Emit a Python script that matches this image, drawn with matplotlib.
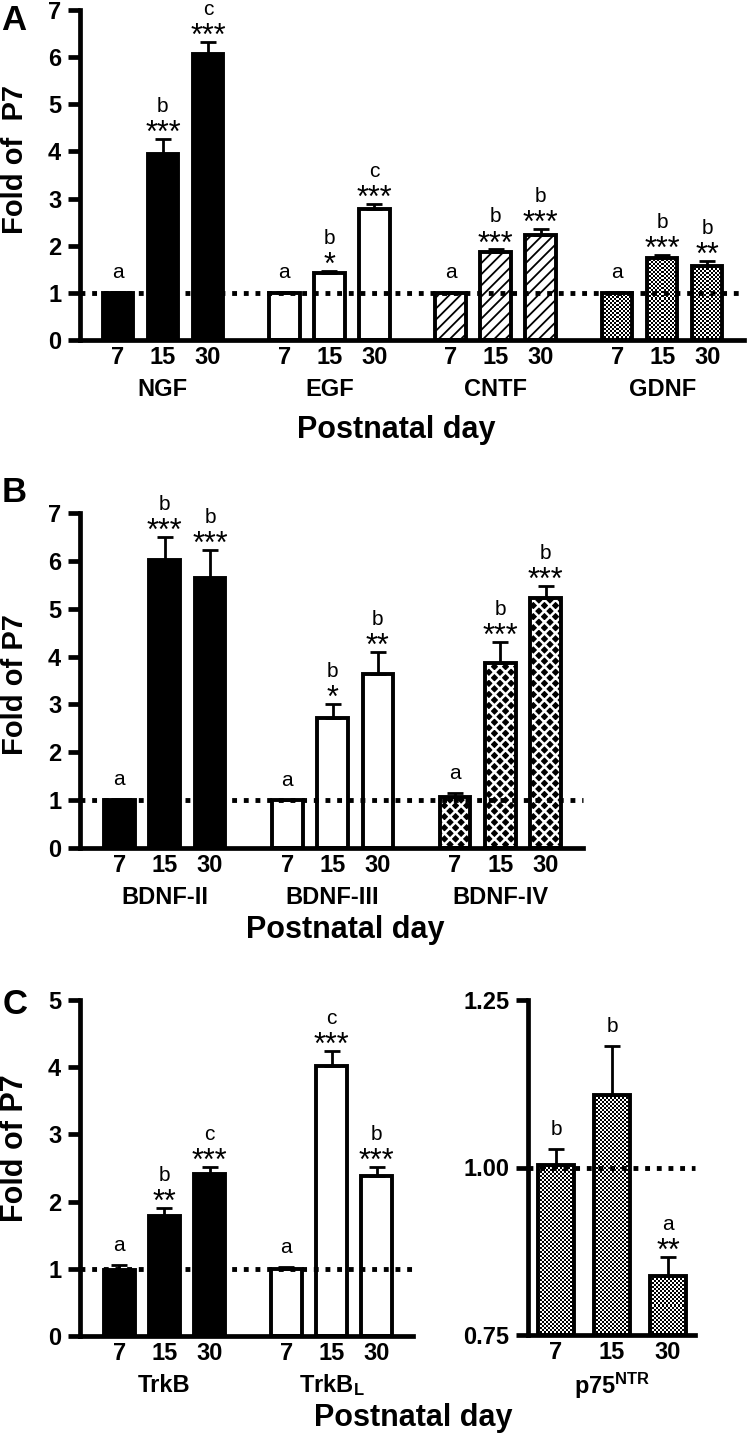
import numpy as np
import matplotlib
matplotlib.use('Agg')
import matplotlib.pyplot as plt

plt.rcParams['font.family'] = ['Liberation Sans', 'DejaVu Sans']
plt.rcParams['mathtext.fontset'] = 'custom'
plt.rcParams['mathtext.rm'] = 'Liberation Sans'
plt.rcParams['mathtext.bf'] = 'Liberation Sans:bold'
plt.rcParams['hatch.linewidth'] = 1.5

# ---------------- data ----------------
days = ['7', '15', '30']

# Panel A
a_groups = ['NGF', 'EGF', 'CNTF', 'GDNF']
ngf_mean = [1.00, 3.94, 6.07]
ngf_err = [0.02, 0.32, 0.25]
egf_mean = [1.00, 1.42, 2.77]
egf_err = [0.01, 0.05, 0.12]
cntf_mean = [1.00, 1.86, 2.22]
cntf_err = [0.01, 0.06, 0.14]
gdnf_mean = [1.00, 1.74, 1.56]
gdnf_err = [0.01, 0.07, 0.11]
a_stars = [['', '***', '***'], ['', '*', '***'], ['', '***', '***'], ['', '***', '**']]
a_letters = [['a', 'b', 'c'], ['a', 'b', 'c'], ['a', 'b', 'b'], ['a', 'b', 'b']]
a_styles = ['solid', 'open', 'hatch', 'checker']

# Panel B
b_groups = ['BDNF-II', 'BDNF-III', 'BDNF-IV']
bdnf2_mean = [1.00, 6.02, 5.64]
bdnf2_err = [0.02, 0.48, 0.59]
bdnf3_mean = [1.00, 2.72, 3.64]
bdnf3_err = [0.01, 0.29, 0.46]
bdnf4_mean = [1.07, 3.87, 5.22]
bdnf4_err = [0.08, 0.44, 0.25]
b_stars = [['', '***', '***'], ['', '*', '**'], ['', '***', '***']]
b_letters = [['a', 'b', 'b'], ['a', 'b', 'b'], ['a', 'b', 'b']]
b_styles = ['solid', 'open', 'diamond']

# Panel C
c_groups = ['TrkB', r'$\mathbf{TrkB_{L}}$']
trkb_mean = [0.98, 1.79, 2.41]
trkb_err = [0.08, 0.11, 0.11]
trkbl_mean = [1.00, 4.02, 2.38]
trkbl_err = [0.03, 0.22, 0.14]
c_stars = [['', '**', '***'], ['', '***', '***']]
c_letters = [['a', 'b', 'c'], ['a', 'c', 'b']]
c_styles = ['solid', 'open']

# Panel C right (p75NTR)
p75_label = r'$\mathbf{p75^{NTR}}$'
p75_mean = [1.003, 1.108, 0.838]
p75_err = [0.025, 0.073, 0.028]
p75_stars = ['', '', '**']
p75_letters = ['b', 'b', 'a']

# ---------------- figure ----------------
W, H = 747, 1440
fig = plt.figure(figsize=(W / 100, H / 100), dpi=100)
PT = 0.72  # points per pixel
TICK_FS = 17
GROUP_FS = 17


def add_ax(l, t, r, b):
    return fig.add_axes([l / W, 1 - b / H, (r - l) / W, (b - t) / H])


def style_axes(ax, yticks, ylabels):
    for s in ['top', 'right']:
        ax.spines[s].set_visible(False)
    for s in ['left', 'bottom']:
        ax.spines[s].set_linewidth(3.4)
    ax.set_yticks(yticks)
    ax.set_yticklabels(ylabels)
    ax.tick_params(axis='y', length=8.5, width=3.4, pad=5, labelsize=TICK_FS)
    ax.tick_params(axis='x', length=0, pad=4, labelsize=TICK_FS)
    for lab in ax.get_yticklabels() + ax.get_xticklabels():
        lab.set_fontweight('bold')


def checker(ax, x0, x1, y0, y1, cell=2.0):
    p0 = ax.transData.transform((x0, y0))
    p1 = ax.transData.transform((x1, y1))
    nx = max(1, int(round(abs(p1[0] - p0[0]) / cell)))
    ny = max(1, int(round(abs(p1[1] - p0[1]) / cell)))
    arr = np.indices((ny, nx)).sum(axis=0) % 2
    ax.imshow(arr, cmap='gray', extent=[x0, x1, y0, y1], origin='lower',
              interpolation='nearest', aspect='auto', zorder=1)


def draw_bars(ax, xs, means, errs, style, width, base=0.0):
    heights = [m - base for m in means]
    lw = 2.8
    if style == 'solid':
        ax.bar(xs, heights, width, bottom=base, color='black', edgecolor='black', linewidth=lw, zorder=2)
    elif style == 'open':
        ax.bar(xs, heights, width, bottom=base, color='white', edgecolor='black', linewidth=lw, zorder=2)
    elif style == 'hatch':
        bars = ax.bar(xs, heights, width, bottom=base, color='white', edgecolor='black',
                      linewidth=lw, hatch='///', zorder=2)
        for p in bars:
            try:
                p.set_hatch_linewidth(1.3)
            except Exception:
                pass
    elif style == 'diamond':
        bars = ax.bar(xs, heights, width, bottom=base, color='black', edgecolor='white',
                      linewidth=0, hatch='xxx', zorder=2)
        for p in bars:
            try:
                p.set_hatch_linewidth(1.8)
            except Exception:
                pass
        ax.bar(xs, heights, width, bottom=base, color='none', edgecolor='black', linewidth=lw, zorder=3)
    elif style == 'checker':
        for x, m in zip(xs, means):
            checker(ax, x - width / 2, x + width / 2, base, m)
        ax.bar(xs, heights, width, bottom=base, color='none', edgecolor='black', linewidth=lw, zorder=3)
    lower = [0.0] * len(means)
    ax.errorbar(xs, means, yerr=[lower, errs], fmt='none', ecolor='black', elinewidth=2.0,
                capsize=6, capthick=2.0, zorder=4)


def annotate(ax, xs, means, errs, stars, letters):
    for x, m, e, s, l in zip(xs, means, errs, stars, letters):
        top = m + e
        if s:
            ax.annotate(s, (x, top), xytext=(0, -3 * PT), textcoords='offset points',
                        ha='center', va='baseline', fontsize=22, zorder=6)
            ax.annotate(l, (x, top), xytext=(0, 27 * PT), textcoords='offset points',
                        ha='center', va='baseline', fontsize=15, zorder=6)
        else:
            ax.annotate(l, (x, top), xytext=(0, 14 * PT), textcoords='offset points',
                        ha='center', va='baseline', fontsize=15, zorder=6)


def group_panel(ax, groups, means_list, errs_list, stars, letters, styles, gap, width,
                left_pad, right_pad, ylim, yticks):
    ngrp = len(groups)
    last = (ngrp - 1) * gap + 2
    ax.set_xlim(-left_pad, last + right_pad)
    ax.set_ylim(*ylim)
    ticks, labels = [], []
    for gi in range(ngrp):
        xs = gi * gap + np.arange(3)
        draw_bars(ax, xs, means_list[gi], errs_list[gi], styles[gi], width)
        annotate(ax, xs, means_list[gi], errs_list[gi], stars[gi], letters[gi])
        ticks += list(xs)
        labels += days
        ax.annotate(groups[gi], (xs[1], ylim[0]), xytext=(0, -49 * PT), textcoords='offset points',
                    ha='center', va='center', fontsize=GROUP_FS, fontweight='bold',
                    annotation_clip=False)
    ax.set_xticks(ticks)
    ax.set_xticklabels(labels)
    ax.plot(ax.get_xlim(), [1, 1], color='black', lw=3.5, ls=(0, (1, 1.4)),
            zorder=5, clip_on=False)
    ax.set_xlim(-left_pad, last + right_pad)
    ax.set_ylim(*ylim)
    style_axes(ax, yticks, [str(t) for t in yticks])


# Panel A
axA = add_ax(80, 10, 744, 340)
group_panel(axA, a_groups, [ngf_mean, egf_mean, cntf_mean, gdnf_mean],
            [ngf_err, egf_err, cntf_err, gdnf_err], a_stars, a_letters, a_styles,
            gap=3.7, width=0.68, left_pad=0.844, right_pad=0.82, ylim=(0, 7), yticks=list(range(8)))

# Panel B
axB = add_ax(80, 513, 583, 848)
group_panel(axB, b_groups, [bdnf2_mean, bdnf3_mean, bdnf4_mean],
            [bdnf2_err, bdnf3_err, bdnf4_err], b_stars, b_letters, b_styles,
            gap=3.7, width=0.68, left_pad=0.867, right_pad=0.82, ylim=(0, 7), yticks=list(range(8)))

# Panel C left
axC = add_ax(80, 1000, 413, 1336)
group_panel(axC, c_groups, [trkb_mean, trkbl_mean], [trkb_err, trkbl_err], c_stars, c_letters,
            c_styles, gap=3.7, width=0.68, left_pad=0.867, right_pad=0.8, ylim=(0, 5),
            yticks=list(range(6)))

# Panel C right
axD = add_ax(528, 1000, 695, 1335)
axD.set_xlim(-0.5, 2.48)
axD.set_ylim(0.75, 1.25)
xs = np.arange(3)
draw_bars(axD, xs, p75_mean, p75_err, 'checker', 0.64, base=0.75)
annotate(axD, xs, p75_mean, p75_err, p75_stars, p75_letters)
axD.plot(axD.get_xlim(), [1, 1], color='black', lw=3.5, ls=(0, (1, 1.4)), zorder=5, clip_on=False)
axD.set_xlim(-0.5, 2.48)
axD.set_ylim(0.75, 1.25)
axD.set_xticks(xs)
axD.set_xticklabels(days)
style_axes(axD, [0.75, 1.00, 1.25], ['0.75', '1.00', '1.25'])
axD.annotate(p75_label, (1, 0.75), xytext=(0, -51 * PT), textcoords='offset points',
             ha='center', va='center', fontsize=GROUP_FS, annotation_clip=False)

# Shared texts
for (x, y, s) in [(14, 20, 'A'), (14, 493, 'B'), (15, 1005, 'C')]:
    fig.text(x / W, 1 - y / H, s, ha='center', va='center', fontsize=25, fontweight='bold')
for (x, y, s, fs) in [(15, 160, 'Fold of  P7', 21), (15, 685, 'Fold of P7', 21), (15, 1148, 'Fold of P7', 22)]:
    fig.text(x / W, 1 - y / H, s, ha='center', va='center', rotation=90, fontsize=fs, fontweight='bold')
for (x, y) in [(396, 430), (345, 930), (413, 1418)]:
    fig.text(x / W, 1 - y / H, 'Postnatal day', ha='center', va='center', fontsize=22, fontweight='bold')

fig.savefig('out.png', dpi=100)
